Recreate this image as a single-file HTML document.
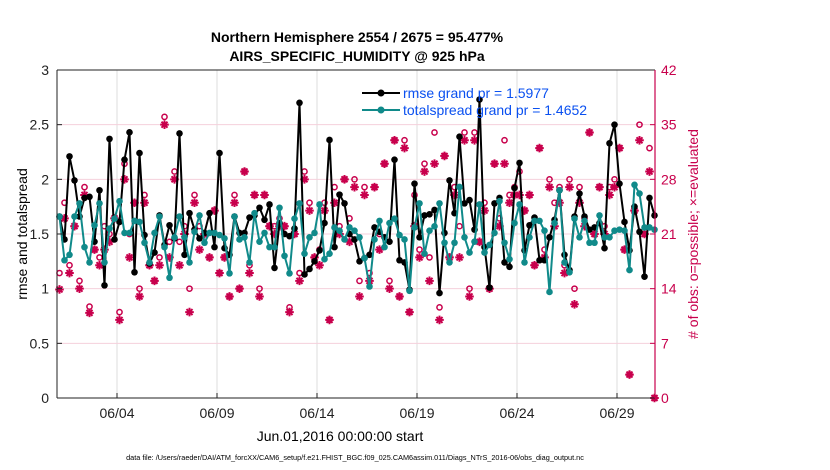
<!DOCTYPE html>
<html><head><meta charset="utf-8"><style>
body{margin:0;background:#fff;}
svg{display:block;font-family:"Liberation Sans",Arial,sans-serif;}
</style></head><body>
<svg id="chart" width="830" height="470" viewBox="0 0 830 470" xmlns="http://www.w3.org/2000/svg">
<rect width="830" height="470" fill="#fff"/>
<g id="grid"></g>
<g id="marks"></g>
<g id="axes"></g>
<text x="357" y="42" text-anchor="middle" font-size="14" font-weight="bold">Northern Hemisphere 2554 / 2675 = 95.477%</text>
<text x="357" y="61" text-anchor="middle" font-size="14" font-weight="bold">AIRS_SPECIFIC_HUMIDITY @ 925 hPa</text>
<text transform="translate(27,234) rotate(-90)" text-anchor="middle" font-size="14">rmse and totalspread</text>
<text transform="translate(698,234) rotate(-90)" text-anchor="middle" font-size="14" fill="#c8004c"># of obs: o=possible; ×=evaluated</text>
<text x="340" y="441" text-anchor="middle" font-size="14">Jun.01,2016 00:00:00 start</text>
<text x="355" y="460" text-anchor="middle" font-size="7.3">data file: /Users/raeder/DAI/ATM_forcXX/CAM6_setup/f.e21.FHIST_BGC.f09_025.CAM6assim.011/Diags_NTrS_2016-06/obs_diag_output.nc</text>
<g>
<line x1="362" y1="93" x2="400" y2="93" stroke="#000" stroke-width="2"/>
<circle cx="381" cy="93" r="3.5" fill="#000"/>
<text x="403" y="98" font-size="14" fill="#0a50f0">rmse grand pr = 1.5977</text>
<line x1="362" y1="110" x2="400" y2="110" stroke="#108a8a" stroke-width="2"/>
<circle cx="381" cy="110" r="3.5" fill="#108a8a"/>
<text x="403" y="115" font-size="14" fill="#0a50f0">totalspread grand pr = 1.4652</text>
</g>
</svg>
<script>
const rmse=[1.66,1.45,2.21,1.99,1.66,1.83,1.84,1.43,1.90,1.03,2.37,1.45,1.61,2.18,2.43,1.15,2.24,1.49,1.23,1.33,1.67,1.40,1.58,1.46,2.42,1.31,1.69,1.54,1.46,1.51,1.69,
1.38,2.24,1.37,1.31,1.66,1.51,1.51,1.65,1.67,1.74,1.63,1.77,1.19,1.60,1.50,1.48,1.55,2.70,1.13,1.18,1.25,1.35,1.60,2.36,1.38,1.86,1.78,1.50,1.45,1.25,
1.28,1.31,1.56,1.52,1.47,1.43,2.18,1.26,1.24,0.99,1.96,1.47,1.67,1.68,1.72,0.96,1.51,1.99,1.69,2.39,1.78,1.81,1.54,2.73,1.38,1.01,1.78,1.83,1.24,1.20,
1.92,2.15,1.35,1.58,1.65,1.26,1.26,1.47,1.63,1.90,1.31,1.17,1.66,1.87,1.66,1.54,1.56,1.60,1.37,2.33,2.50,1.96,1.61,1.35,1.75,1.52,1.11,1.83,1.67];
const spread=[1.66,1.26,1.31,1.66,1.78,1.38,1.24,1.58,1.78,1.24,1.55,1.64,1.80,1.51,1.51,1.62,1.61,1.42,1.24,1.51,1.66,1.38,1.10,1.47,1.66,1.47,1.24,1.52,1.67,1.42,1.51,
1.51,1.49,1.46,1.14,1.66,1.45,1.47,1.24,1.69,1.43,1.51,1.38,1.38,1.74,1.30,1.14,1.64,1.78,1.32,1.47,1.51,1.77,1.27,1.32,1.56,1.53,1.45,1.56,1.53,1.47,
1.28,1.02,1.45,1.62,1.38,1.60,1.64,1.49,1.45,0.98,1.56,1.78,1.32,1.53,1.57,1.78,1.42,1.24,1.42,1.93,1.47,1.33,1.43,1.77,1.33,1.40,1.51,1.80,1.42,1.27,
1.60,1.77,1.24,1.47,1.62,1.62,1.53,0.97,1.60,1.90,1.24,1.15,1.64,1.47,1.62,1.42,1.42,1.67,1.47,1.47,1.53,1.54,1.53,1.17,1.95,1.87,1.56,1.56,1.54];
const obsEvaluated=[13.9,23,16,22,14,26,10.9,19,17,19,20,23,10,28,18,25,13,25,17,15,17,35,18,28,17,21,11,25,19,21,18,
24,16,18,13,25,14,29,16,26,13,26,22,21,22,22,11,21,15,28,24,18,17,24,10,25,21,28,20,27,13,
26,15,27,19,30,14,33,13,32,11,22,18,29,15,30,10,31,18,26,18,33,13,33,20,24,14,30,22,30,
25,26,26,24,26,17,32,18,27,22,25,16,27,12,25,22,34,21,27,21,26,27,32,19,3,24,33,21,29,0];
const obsPossible=[16,25,17,22,15,27,11.7,19,18,22,21,23,11,30,21,25,14,26,17,15,18,36,20,29,20,22,14,26,22,21,18,
24,16,18,13,26,14,29,17,26,14,26,22,22,23,22,11.6,21,16,29,25,18,19,25,10,27,22,28,23,28,15,
27,16,27,21,30,15,33,13,33,11,26,19,30,18,34,11.6,31,18,27,22,34,14,34,20,25,14,30,23,33,
26,27,29,24,26,17,32,19,28,25,27,17,28,14,27,23,34,21,27,22,27,28,32,19,3,24,35,21,32,0];
const dateTickDays=[3,8,13,18,23,28];
const dateTickLabels=["06/04","06/09","06/14","06/19","06/24","06/29"];
const leftTicks=[0,0.5,1,1.5,2,2.5,3];
const rightTicks=[0,7,14,21,28,35,42];

const NS="http://www.w3.org/2000/svg";
const X0=57,X1=655,Y0=398,Y1=70,DMIN=0,DMAX=29.9;
const xs=d=>X0+(d-DMIN)/(DMAX-DMIN)*(X1-X0);
const yl=v=>Y0-v/3*(Y0-Y1);
const yr=v=>Y0-v/42*(Y0-Y1);
const dayOf=i=>0.125+i*0.25;
const RED="#c8004c",TEAL="#108a8a";
function mk(tag,attrs,parent){const e=document.createElementNS(NS,tag);for(const k in attrs)e.setAttribute(k,attrs[k]);parent.appendChild(e);return e;}
const grid=document.getElementById('grid'),marks=document.getElementById('marks'),axes=document.getElementById('axes');

dateTickDays.forEach((d,i)=>{
  const g=mk('line',{x1:xs(d),x2:xs(d),y1:Y1,y2:Y0,stroke:'#dcdcdc','stroke-width':1},grid);
  
  
  const t=mk('line',{x1:xs(d),x2:xs(d),y1:Y0,y2:Y0-5,stroke:'#222','stroke-width':1},axes);
  
  
  const l=mk('text',{x:xs(d),y:Y0+20,'text-anchor':'middle','font-size':14,fill:'#222'},axes);
  l.textContent=dateTickLabels[i];
  
  
});
rightTicks.forEach(v=>{
  if(v>0&&v<42){const g=mk('line',{x1:X0,x2:X1,y1:yr(v),y2:yr(v),stroke:'#f5d0dc','stroke-width':1},grid);
  
  }
  const t=mk('line',{x1:X1,x2:X1-5,y1:yr(v),y2:yr(v),stroke:RED,'stroke-width':1},axes);
  
  
  const l=mk('text',{x:X1+6,y:yr(v)+5,'font-size':14,fill:RED},axes);
  l.textContent=v;
  
  
});
leftTicks.forEach(v=>{
  const t=mk('line',{x1:X0,x2:X0+5,y1:yl(v),y2:yl(v),stroke:'#222','stroke-width':1},axes);
  
  
  const l=mk('text',{x:X0-8,y:yl(v)+5,'text-anchor':'end','font-size':14,fill:'#222'},axes);
  l.textContent=String(v);
  
  
});
let ax=mk('line',{x1:X0,x2:X1,y1:Y1,y2:Y1,stroke:'#222','stroke-width':1},axes);


ax=mk('line',{x1:X0,x2:X1,y1:Y0,y2:Y0,stroke:'#222','stroke-width':1},axes);


ax=mk('line',{x1:X0,x2:X0,y1:Y1,y2:Y0,stroke:'#222','stroke-width':1},axes);


ax=mk('line',{x1:X1,x2:X1,y1:Y1,y2:Y0,stroke:RED,'stroke-width':1.2},axes);



obsPossible.forEach((v,i)=>{
  const c=mk('circle',{cx:xs(dayOf(i)),cy:yr(v),r:2.6,fill:'none',stroke:RED,'stroke-width':1.5},marks);
  
  
});
obsEvaluated.forEach((v,i)=>{
  const x=xs(dayOf(i)),y=yr(v),s=4.3;
  const p=mk('path',{d:`M${x-s},${y}H${x+s}M${x},${y-s}V${y+s}M${x-s*.7},${y-s*.7}L${x+s*.7},${y+s*.7}M${x-s*.7},${y+s*.7}L${x+s*.7},${y-s*.7}`,stroke:RED,'stroke-width':2},marks);
  
  
});
function series(arr,color,name){
  const pts=arr.map((v,i)=>xs(dayOf(i)).toFixed(1)+','+yl(v).toFixed(1)).join(' ');
  const pl=mk('polyline',{points:pts,fill:'none',stroke:color,'stroke-width':2,'stroke-linejoin':'round'},marks);
  
  
  arr.forEach((v,i)=>{
    const c=mk('circle',{cx:xs(dayOf(i)),cy:yl(v),r:3.3,fill:color},marks);
    
    
  });
}
series(rmse,'#000','rmse');
series(spread,TEAL,'totalspread');
</script>
</body></html>
